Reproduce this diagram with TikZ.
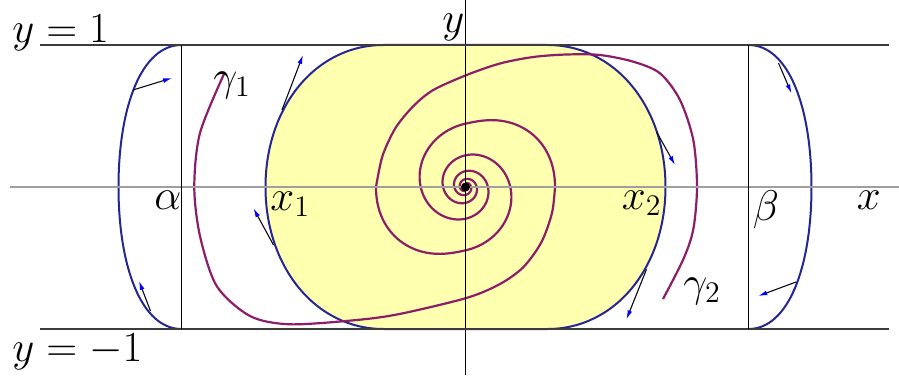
\documentclass[tikz,border=0pt]{standalone}
\usetikzlibrary{arrows.meta}
\definecolor{fillyel}{RGB}{255,255,176}
\definecolor{navyc}{RGB}{38,38,145}
\definecolor{purp}{RGB}{140,30,105}
\definecolor{linegray}{RGB}{60,60,60}
\newcommand{\lbltext}[1]{\scalebox{1.035}{\huge$#1$}}
\begin{document}
\begin{tikzpicture}[x=0.5pt,y=0.5pt,line join=round,
  declare function={gr(\t)=89.5*exp(-0.00385*\t)*(1+(\t<90)*(0.3456*(\t/90)*(1-\t/90)^2+0.9*(\t/90)^2*(1-\t/90)^2));},
  lbl/.style={anchor=base west,inner sep=0pt},
  bluecurve/.style={draw=navyc,line width=1pt},
  purpcurve/.style={draw=purp,line width=1.1pt},
  fieldarrow/.style={draw=black!80!navyc,line width=0.55pt,-{Latex[length=4.5pt,width=2.4pt,color=blue]}},
  bound/.style={draw=linegray,line width=0.9pt},
]
\useasboundingbox (-465.5,-188) rectangle (433.5,187);
% basin (yellow region)
\draw[bluecurve,fill=fillyel] (82,142) .. controls (150,142) and (200,80) .. (200,0)
  .. controls (200,-80) and (150,-142) .. (82,-142) -- (-82,-142)
  .. controls (-150,-142) and (-200,-80) .. (-200,0)
  .. controls (-200,80) and (-150,142) .. (-82,142) -- cycle;
% outer blue orbits
\draw[bluecurve] (-284,142) .. controls (-324,142) and (-347,80) .. (-347,0)
  .. controls (-347,-80) and (-324,-142) .. (-284,-142);
\draw[bluecurve] (283,142) .. controls (323,142) and (346,80) .. (346,0)
  .. controls (346,-80) and (323,-142) .. (283,-142);
% gamma 1
\draw[purpcurve] plot[smooth] coordinates {(-241.5,113) (-265.5,54) (-271.2,0) (-265.5,-49) (-248.8,-99) (-215.5,-129) (-175.5,-137.3) (-108.8,-133) (-65.5,-126.9) (1.2,-110.9) (34.5,-97) (58,-80) (76,-55) (86.5,-26) (89.5,0)}
  -- plot[domain=0:800,samples=300,variable=\t] ({gr(\t)*cos(\t)},{gr(\t)*sin(\t)});
% gamma 2
\draw[purpcurve] plot[smooth] coordinates {(197.5,-112) (217.8,-72.3) (227.8,-42.3) (231.5,0) (227.8,47) (214.5,87) (194.5,113.7) (167.8,125.3) (134.5,132) (101.2,132.5) (67.8,130) (34.5,123.5) (1.2,112) (-32.2,97) (-52,81) (-70,59) (-83,31) (-89.5,0)}
  -- plot[domain=0:800,samples=300,variable=\t] ({-gr(\t)*cos(\t)},{-gr(\t)*sin(\t)});
% axes and lines
\draw[gray!75,line width=0.7pt] (-455.5,0) -- (433.5,0);
\draw[black,line width=0.5pt] (0,187) -- (0,-188);
\draw[bound] (-425.5,142) -- (423.5,142);
\draw[bound] (-425.5,-142) -- (423.5,-142);
\draw[black,line width=0.7pt] (-284,142) -- (-284,-142);
\draw[black,line width=0.7pt] (283,142) -- (283,-142);
% field arrows
\coordinate (a1s) at (-332.5,97);  \coordinate (a1e) at (-293.5,109);
\coordinate (a2s) at (-315,-124);  \coordinate (a2e) at (-326.5,-94);
\coordinate (a3s) at (-183.5,77);  \coordinate (a3e) at (-162.5,132);
\coordinate (a4s) at (-192,-58);   \coordinate (a4e) at (-212,-21.3);
\coordinate (a5s) at (191,55.3);   \coordinate (a5e) at (209.5,22);
\coordinate (a6s) at (181,-82.3);  \coordinate (a6e) at (161,-132.3);
\coordinate (a7s) at (313,124);    \coordinate (a7e) at (326,93.7);
\coordinate (a8s) at (330.5,-95);  \coordinate (a8e) at (292.8,-109);
\foreach \i in {1,...,8} { \draw[fieldarrow] (a\i s) -- (a\i e); }
% equilibrium
\fill[black] (0,0) circle (4.5);
% labels
\node[lbl] (ly1) at (-453.5,144.5) {\lbltext{y=1}};
\node[lbl] (lym1) at (-453.5,-174) {\lbltext{y=-1}};
\node[lbl] (ly) at (-23.5,155) {\lbltext{y}};
\node[lbl] (lalpha) at (-311.5,-22) {\lbltext{\alpha}};
\node[lbl] (lx1) at (-195.5,-23) {\lbltext{x_1}};
\node[lbl] (lx2) at (156,-22) {\lbltext{x_2}};
\node[lbl] (lbeta) at (287,-33.5) {\lbltext{\beta}};
\node[lbl] (lx) at (391,-22) {\lbltext{x}};
\node[lbl] (lg1) at (-252.5,97) {\lbltext{\gamma_1}};
\node[lbl] (lg2) at (217.5,-109) {\lbltext{\gamma_2}};
\end{tikzpicture}
\end{document}
